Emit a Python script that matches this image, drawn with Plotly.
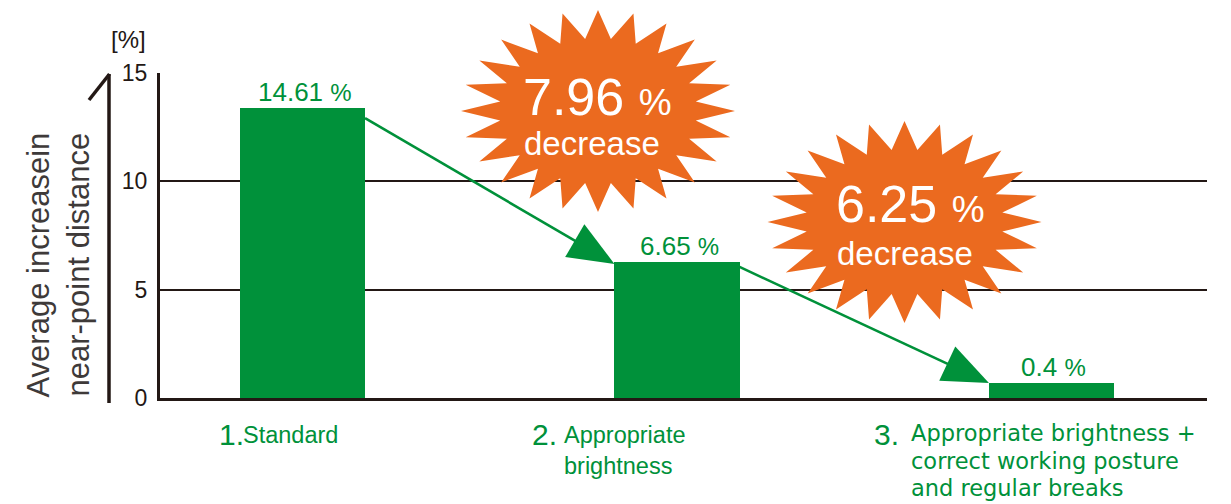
import numpy as np
import plotly.graph_objects as go

# ---------------- data ----------------
categories = [0, 1, 2]
bar_heights = [13.38, 6.28, 0.69]
value_labels = ["14.61", "6.65", "0.4"]
cat_numbers = ["1.", "2.", "3."]
cat_lines = [
    ["Standard"],
    ["Appropriate", "brightness"],
    ["Appropriate brightness +", "correct working posture", "and regular breaks"],
]
decrease_values = ["7.96", "6.25"]
decrease_word = "decrease"
y_ticks = [0, 5, 10, 15]
y_title_lines = ["Average increasein", "near-point distance"]
unit_label = "[%]"

# ---------------- style / layout ----------------
GREEN = "#00913A"
ORANGE = "#EB6A1F"
DARK = "#231815"
GREY = "#3E3A39"
FONT = "Liberation Sans, Arial, Helvetica, sans-serif"
WIDE_FONT = "DejaVu Sans, Liberation Sans, sans-serif"

OFF = 8  # page body margin: screen px = figure px + OFF
SCREEN_W, SCREEN_H = 1231, 504
W, H = SCREEN_W - OFF, SCREEN_H - OFF
PLOT_L, PLOT_R, PLOT_T, PLOT_B = 160, 1207, 73, 398  # screen px
L = PLOT_L - OFF
T = PLOT_T - OFF
R = W - (PLOT_R - OFF)
B = H - (PLOT_B - OFF)
PW, PH = W - L - R, H - T - B
X_RANGE = [-0.3805, 2.4152]
Y_RANGE = [0, 15]
BAR_W = 0.334


def pxx(px):
    return (px - PLOT_L) / PW


def pxy(py):
    return (PLOT_B - py) / PH


def d2p(x, y):
    px = PLOT_L + (x - X_RANGE[0]) / (X_RANGE[1] - X_RANGE[0]) * PW
    py = PLOT_B - (y - Y_RANGE[0]) / (Y_RANGE[1] - Y_RANGE[0]) * PH
    return px, py


def p2d(px, py):
    x = X_RANGE[0] + (px - PLOT_L) / PW * (X_RANGE[1] - X_RANGE[0])
    y = Y_RANGE[0] + (PLOT_B - py) / PH * (Y_RANGE[1] - Y_RANGE[0])
    return x, y


fig = go.Figure()
fig.add_trace(go.Bar(
    x=categories, y=bar_heights, width=BAR_W,
    marker=dict(color=GREEN, line=dict(width=0)),
    hoverinfo="skip", showlegend=False,
))

shapes = []
annotations = []

# ---- starbursts ----
star_centers = [(598, 111), (904.5, 222)]
RX, RY, INNER, NPTS = 137, 101, 0.72, 24
for cx, cy in star_centers:
    pts = []
    for k in range(2 * NPTS):
        a = np.pi * k / NPTS
        r = 1.0 if k % 2 == 0 else INNER
        pts.append((cx + RX * r * np.cos(a), cy - RY * r * np.sin(a)))
    path = "M " + " L ".join(f"{pxx(x):.5f},{pxy(y):.5f}" for x, y in pts) + " Z"
    shapes.append(dict(type="path", xref="paper", yref="paper", path=path,
                       fillcolor=ORANGE, line=dict(width=0), layer="above"))

# ---- arrows between bars ----
start_drop_px = [10, 5]
end_drop_px = [2, 0]
for i in range(len(bar_heights) - 1):
    sx, sy = d2p(categories[i] + BAR_W / 2, bar_heights[i])
    sy += start_drop_px[i]
    ex, ey = d2p(categories[i + 1] - BAR_W / 2, bar_heights[i + 1])
    ey += end_drop_px[i]
    dx, dy = ex - sx, ey - sy
    n = np.hypot(dx, dy)
    ux, uy = dx / n, dy / n
    bx, by = ex - 46 * ux, ey - 46 * uy
    nx, ny = -uy, ux
    lx0, ly0 = p2d(sx, sy)
    lx1, ly1 = p2d(bx + 4 * ux, by + 4 * uy)
    shapes.append(dict(type="line", xref="x", yref="y", x0=lx0, y0=ly0, x1=lx1, y1=ly1,
                       line=dict(color=GREEN, width=2.6), layer="above"))
    tri = [(ex, ey), (bx + 19 * nx, by + 19 * ny), (bx - 19 * nx, by - 19 * ny)]
    tri_d = [p2d(x, y) for x, y in tri]
    path = "M " + " L ".join(f"{x:.5f},{y:.5f}" for x, y in tri_d) + " Z"
    shapes.append(dict(type="path", xref="x", yref="y", path=path,
                       fillcolor=GREEN, line=dict(width=0), layer="above"))

# ---- left decorative arrow ----
shapes.append(dict(type="line", xref="paper", yref="paper",
                   x0=pxx(109), y0=pxy(74), x1=pxx(109), y1=pxy(403),
                   line=dict(color=DARK, width=3.5)))
shapes.append(dict(type="line", xref="paper", yref="paper",
                   x0=pxx(109.5), y0=pxy(74), x1=pxx(89), y1=pxy(100),
                   line=dict(color=DARK, width=3.5)))

# ---- value labels ----
for i, lab in enumerate(value_labels):
    annotations.append(dict(
        x=categories[i], y=bar_heights[i], xref="x", yref="y",
        text=f"{lab} <span style='font-size:24px'>%</span>",
        showarrow=False, yanchor="bottom", xanchor="center", yshift=-1, xshift=2,
        font=dict(family=FONT, size=26, color=GREEN)))

# ---- star texts ----
star_num_pos = [(597.5, 97), (910, 204)]
star_word_pos = [(592, 143.5), (905, 253.5)]
for i, v in enumerate(decrease_values):
    annotations.append(dict(
        x=pxx(star_num_pos[i][0]), y=pxy(star_num_pos[i][1]), xref="paper", yref="paper",
        text=f"{v} <span style='font-size:37px'>%</span>", showarrow=False,
        xanchor="center", yanchor="middle",
        font=dict(family=FONT, size=52, color="white")))
    annotations.append(dict(
        x=pxx(star_word_pos[i][0]), y=pxy(star_word_pos[i][1]), xref="paper", yref="paper",
        text=decrease_word, showarrow=False, xanchor="center", yanchor="middle",
        font=dict(family=FONT, size=33, color="white")))

# ---- category labels ----
num_shift = [-86, -147, -180]
text_shift = [-62, -115, -143]
num_center_y = [434.5, 434.5, 434.5]
line_centers = [[435], [435, 466], [433, 461, 488]]
line_size = [23.5, 23.5, 22.5]
line_font = [FONT, FONT, WIDE_FONT]
for i in range(len(categories)):
    annotations.append(dict(
        x=categories[i], xref="x", xshift=num_shift[i], y=pxy(num_center_y[i]), yref="paper",
        text=cat_numbers[i], showarrow=False, xanchor="left", yanchor="middle",
        font=dict(family=FONT, size=30, color=GREEN)))
    for j, line in enumerate(cat_lines[i]):
        annotations.append(dict(
            x=categories[i], xref="x", xshift=text_shift[i], y=pxy(line_centers[i][j]), yref="paper",
            text=line, showarrow=False, xanchor="left", yanchor="middle",
            font=dict(family=line_font[i], size=line_size[i], color=GREEN)))

# ---- y title and unit ----
title_x = [37.5, 77.5]
for i, t in enumerate(y_title_lines):
    annotations.append(dict(
        x=pxx(title_x[i]), y=pxy(265), xref="paper", yref="paper", text=t,
        textangle=-90, showarrow=False, xanchor="center", yanchor="middle",
        font=dict(family=FONT, size=31, color=GREY)))
annotations.append(dict(
    x=pxx(128.5), y=pxy(39), xref="paper", yref="paper", text=unit_label,
    showarrow=False, xanchor="center", yanchor="middle",
    font=dict(family=FONT, size=24, color=DARK)))

fig.update_layout(
    width=W, height=H,
    margin=dict(l=L, r=R, t=T, b=B, pad=0),
    paper_bgcolor="white", plot_bgcolor="white",
    showlegend=False,
    xaxis=dict(range=X_RANGE, showticklabels=False, showgrid=False, zeroline=False,
               showline=True, linewidth=3, linecolor=DARK, ticks="", fixedrange=True),
    yaxis=dict(range=Y_RANGE, tickvals=y_ticks, showgrid=True, gridcolor=DARK, gridwidth=1.5,
               zeroline=False, showline=True, linewidth=3, linecolor=DARK, ticks="",
               ticklabelstandoff=5, tickfont=dict(family=FONT, size=23, color=DARK),
               fixedrange=True),
    shapes=shapes, annotations=annotations,
    bargap=0,
)

fig.write_html("out.html", config={"displayModeBar": False})
